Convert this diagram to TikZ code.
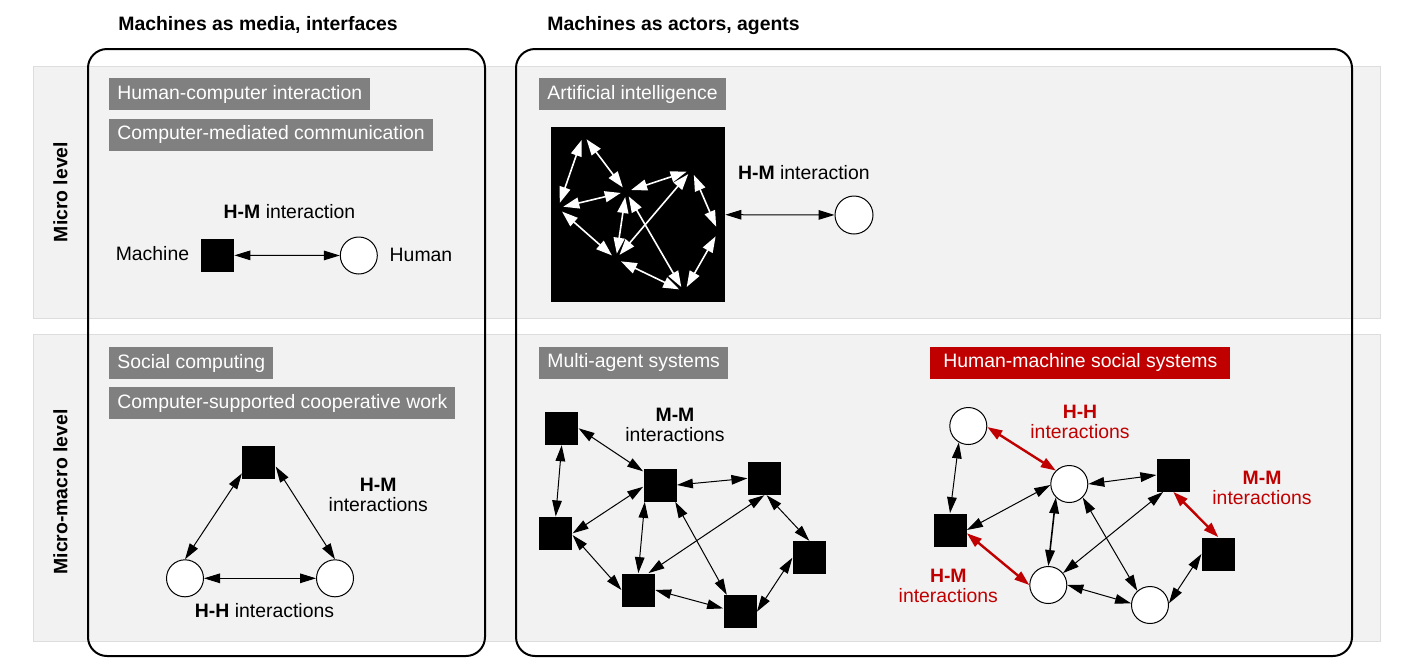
\documentclass[tikz,border=0pt]{standalone}
\usepackage{fontspec}
\setmainfont{Liberation Sans}
\usetikzlibrary{arrows.meta}
\definecolor{bandfill}{HTML}{F2F2F2}
\definecolor{bandline}{HTML}{DDDDDD}
\definecolor{boxgray}{HTML}{808080}
\definecolor{redc}{HTML}{C00000}
\begin{document}
\begin{tikzpicture}[x=0.5pt,y=-0.5pt,
  font=\fontsize{9.7}{10}\selectfont,
  lbl/.style={inner sep=0pt},
  graybox/.style={fill=boxgray, text=white, inner xsep=4pt, inner ysep=0pt,
    minimum height=16pt, text height=7pt, text depth=2pt, anchor=west},
  msq/.style={fill=black, minimum size=16.5pt, inner sep=0pt},
  hcirc/.style={circle, draw=black, fill=white, line width=0.5pt, minimum size=18.5pt, inner sep=0pt},
  dotpt/.style={circle, minimum size=5pt, inner sep=0pt},
  conn/.style={line width=0.5pt, {Triangle[length=8pt,width=4.8pt]}-{Triangle[length=8pt,width=4.8pt]}},
  wconn/.style={draw=white, line width=0.8pt, {Triangle[length=8pt,width=5.5pt]}-{Triangle[length=8pt,width=5.5pt]}},
  rconn/.style={draw=redc, line width=1.2pt, {Triangle[length=7.5pt,width=5pt]}-{Triangle[length=7.5pt,width=5pt]}},
  rlbl/.style={text=redc, align=center, inner sep=0pt}
]
\useasboundingbox (0,0) rectangle (1417,670);

% bands
\filldraw[fill=bandfill, draw=bandline, line width=0.5pt] (33,66) rectangle (1380,318);
\filldraw[fill=bandfill, draw=bandline, line width=0.5pt] (33,334) rectangle (1380,641);

% column frames
\draw[line width=1pt, rounded corners=9.5pt] (88,49) rectangle (485,656);
\draw[line width=1pt, rounded corners=9.5pt] (516,49) rectangle (1352,656);

% titles
\node[lbl, anchor=base west] (t1) at (118,30.7) {\textbf{Machines as media, interfaces}};
\node[lbl, anchor=base west] (t2) at (547,30.7) {\textbf{Machines as actors, agents}};
\node[lbl, rotate=90] (r1) at (60.5,192) {\textbf{Micro level}};
\node[lbl, rotate=90] (r2) at (60.5,492) {\textbf{Micro-macro level}};

% category boxes
\node[graybox] (hci) at (109,94.2) {Human-computer interaction};
\node[graybox] (cmc) at (109,134.5) {Computer-mediated communication};
\node[graybox] (ai) at (539,94.2) {Artificial intelligence};
\node[graybox] (soc) at (109,363) {Social computing};
\node[graybox] (cscw) at (109,403) {Computer-supported cooperative work};
\node[graybox] (mas) at (539,362.5) {Multi-agent systems};
\node[graybox, fill=redc, inner xsep=6.5pt] (hmss) at (930,362.7) {Human-machine social systems};

% micro left
\node[msq] (mach) at (217.5,255.3) {};
\node[hcirc] (hum) at (358.8,255.5) {};
\draw[conn] (mach) -- (hum);
\node[lbl, anchor=base] (hmi1) at (289.5,218.3) {\textbf{H-M} interaction};
\node[lbl, anchor=base east] (machl) at (189.5,260.7) {Machine};
\node[lbl, anchor=base west] (huml) at (389.3,261.3) {Human};

% AI
\node[fill=black, minimum width=87pt, minimum height=87.5pt, inner sep=0pt] (aibox) at (638,214.5) {};
\node[dotpt] (pa) at (583.3,135) {};
\node[dotpt] (pb) at (626,191.7) {};
\node[dotpt] (pc) at (558,208) {};
\node[dotpt] (pd) at (691.7,170) {};
\node[dotpt] (pe) at (718.3,231.7) {};
\node[dotpt] (pf) at (616,259) {};
\node[dotpt] (ph) at (684,291.7) {};
\draw[wconn] (pa) -- (pb);
\draw[wconn] (pa) -- (pc);
\draw[wconn] (pb) -- (pc);
\draw[wconn] (pb) -- (pd);
\draw[wconn] (pb) -- (pf);
\draw[wconn] (pb) -- (ph);
\draw[wconn] (pc) -- (pf);
\draw[wconn] (pd) -- (pf);
\draw[wconn] (pd) -- (pe);
\draw[wconn] (pe) -- (ph);
\draw[wconn] (pf) -- (ph);
\node[hcirc, minimum size=19pt] (aihum) at (854,215) {};
\draw[conn] (aibox) -- (aihum);
\node[lbl, anchor=base west] (hmi2) at (737.7,179.3) {\textbf{H-M} interaction};

% micro-macro left triangle
\node[msq] (tsq) at (258.8,462) {};
\node[hcirc] (tl) at (185,578.3) {};
\node[hcirc] (tr) at (335,578.3) {};
\draw[conn] (tsq.214) -- (tl.north);
\draw[conn] (tsq.-15) -- (tr.north);
\draw[conn] (tl) -- (tr);
\node[lbl, align=center] (hml) at (378.3,495) {\textbf{H-M}\\interactions};
\node[lbl, anchor=base] (hhl) at (264.5,617.7) {\textbf{H-H} interactions};

% multi-agent systems
\node[msq] (n1) at (561.7,428.3) {};
\node[msq] (n2) at (660,485) {};
\node[msq] (n3) at (555.7,533.3) {};
\node[msq] (n4) at (764.3,478.3) {};
\node[msq] (n5) at (638.3,590) {};
\node[msq] (n6) at (809.3,557.7) {};
\node[msq] (n7) at (740,611.7) {};
\draw[conn] (n1.south) -- (n3.north);
\draw[conn] (n1.east) -- (n2.141);
\draw[conn] (n2.186) -- (n3.east);
\draw[conn] (n2.east) -- (n4.west);
\draw[conn] (n2.228) -- (n5.north);
\draw[conn] (n2.-48) -- (n7.128);
\draw[conn] (n3.-6) -- (n5.west);
\draw[conn] (n4.south) -- (n5.59);
\draw[conn] (n4.-82) -- (n6.north);
\draw[conn] (n5.east) -- (n7.169);
\draw[conn] (n6.west) -- (n7.east);
\node[lbl, align=center] (mml) at (675,425) {\textbf{M-M}\\interactions};

% human-machine social systems
\node[hcirc] (h1) at (968.3,426) {};
\node[hcirc] (h2) at (1069.3,484) {};
\node[msq] (m1) at (950,530) {};
\node[msq] (m2) at (1173.3,475) {};
\node[hcirc] (h3) at (1048.3,585) {};
\node[hcirc] (h4) at (1150,605) {};
\node[msq] (m3) at (1218.3,554) {};
\draw[conn] (h1.240) -- (m1.north);
\draw[rconn] (h1.-3) -- (h2.135);
\draw[conn] (h2.183) -- (m1.east);
\draw[conn] (h2.east) -- (m2.west);
\draw[conn, line width=0.8pt] (h2.225) -- (h3.north);
\draw[conn] (h2.-45) -- (h4.132);
\draw[rconn] (m1.-11) -- (h3.west);
\draw[conn] (m2.239) -- (h3.39);
\draw[rconn] (m2.south) -- (m3.north);
\draw[conn] (h3.east) -- (h4.175);
\draw[conn] (h4.5) -- (m3.west);
\node[rlbl] (hhr) at (1080,421.7) {\textbf{H-H}\\interactions};
\node[rlbl] (mmr) at (1262,488.3) {\textbf{M-M}\\interactions};
\node[rlbl] (hmr) at (948.3,586) {\textbf{H-M}\\interactions};
\end{tikzpicture}
\end{document}
